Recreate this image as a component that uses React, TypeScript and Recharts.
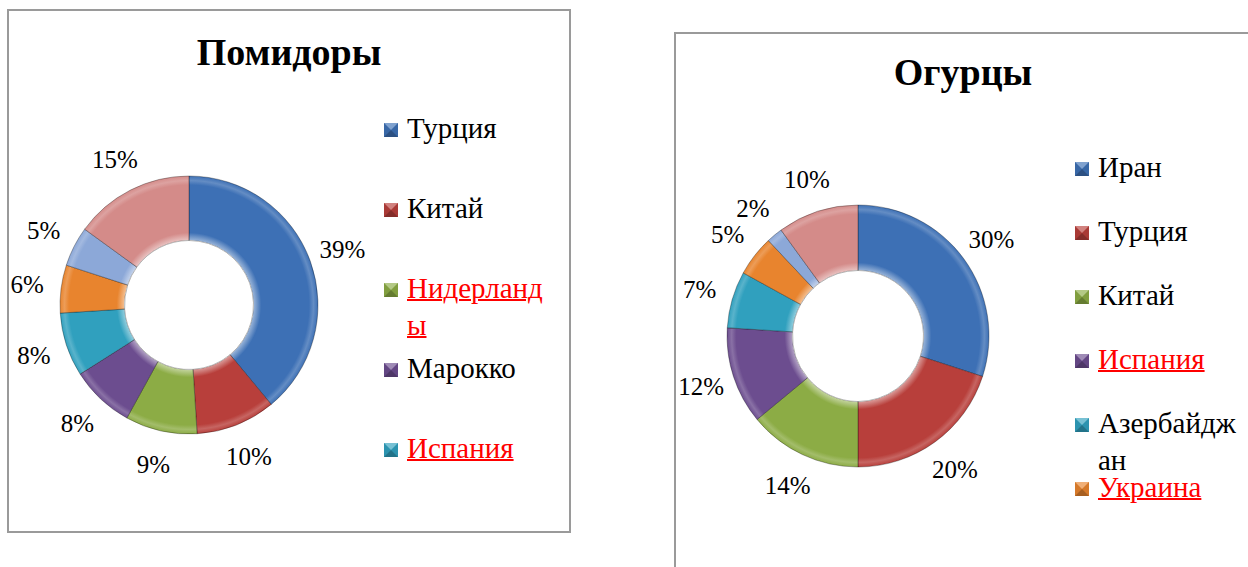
import { PieChart, Pie, Cell, Legend } from "recharts";

// Помидоры
const TOMATO_NAMES = ["Турция", "Китай", "Нидерланды", "Марокко", "Испания", "Страна 6", "Страна 7", "Прочие"];
const TOMATO_VALUES = [39, 10, 9, 8, 8, 6, 5, 15];
const TOMATO_LINKS = ["Нидерланды", "Испания"];

// Огурцы
const CUCUMBER_NAMES = ["Иран", "Турция", "Китай", "Испания", "Азербайджан", "Украина", "Страна 7", "Прочие"];
const CUCUMBER_VALUES = [30, 20, 14, 12, 7, 5, 2, 10];
const CUCUMBER_LINKS = ["Испания", "Украина"];

const COLORS = ["#3d70b5", "#b83f3b", "#8cac45", "#6c4d8f", "#30a0be", "#e8842e", "#8ca8d8", "#d48b89"];

const SERIF = "'Liberation Serif', 'Times New Roman', serif";
const RAD = Math.PI / 180;

const renderLabel = (props: any) => {
    const { cx, cy, midAngle, outerRadius, value } = props;
    const r = outerRadius + 34;
    const x = cx + r * Math.cos(-midAngle * RAD);
    const y = cy + r * Math.sin(-midAngle * RAD);
    return (
        <text x={x} y={y} textAnchor="middle" dominantBaseline="central" fontSize={25} fontFamily={SERIF} fill="#000">
            {value}%
        </text>
    );
};

// small bevelled square like the Excel legend keys
function Marker({ color }: { color: string }) {
    return (
        <svg width={14} height={14} style={{ flex: "none", marginTop: 13, marginRight: 9 }}>
            <rect x={0} y={0} width={14} height={14} fill={color} />
            <polygon points="0,0 14,0 7,7" fill="rgba(255,255,255,0.35)" />
            <polygon points="0,0 7,7 0,14" fill="rgba(0,0,0,0.08)" />
            <polygon points="14,0 7,7 14,14" fill="rgba(0,0,0,0.08)" />
            <polygon points="0,14 14,14 7,7" fill="rgba(0,0,0,0.28)" />
        </svg>
    );
}

function LegendList({ names, links, count, spacing, textWidth }: { names: string[]; links: string[]; count: number; spacing: number; textWidth: number }) {
    return (
        <div style={{ position: "relative", fontFamily: SERIF }}>
            {names.slice(0, count).map((name, i) => {
                const link = links.includes(name);
                return (
                    <div key={name} style={{ position: "absolute", left: 0, top: i * spacing, display: "flex", alignItems: "flex-start" }}>
                        <Marker color={COLORS[i]} />
                        <span
                            style={{
                                width: textWidth,
                                wordBreak: "break-all",
                                fontSize: 29,
                                lineHeight: "37px",
                                color: link ? "#ff0000" : "#000",
                                textDecoration: link ? "underline" : "none",
                                textDecorationThickness: 2,
                            }}
                        >
                            {name}
                        </span>
                    </div>
                );
            })}
        </div>
    );
}

// ring shading: light rim at the hole, darker towards the outer edge
function Bevel({ id, cx, cy, outer }: { id: string; cx: number; cy: number; outer: number }) {
    return (
        <defs>
            {COLORS.map((c, i) => (
                <radialGradient key={c} id={`${id}-${i}`} gradientUnits="userSpaceOnUse" cx={cx} cy={cy} r={outer}>
                    <stop offset="0.5" stopColor="#ffffff" />
                    <stop offset="0.505" stopColor={c} stopOpacity={0.55} />
                    <stop offset="0.56" stopColor={c} />
                    <stop offset="0.93" stopColor={c} />
                    <stop offset="0.965" stopColor={c} stopOpacity={0.8} />
                    <stop offset="1" stopColor={c} />
                </radialGradient>
            ))}
        </defs>
    );
}

function Donut({ id, names, values, cx, cy, outer }: { id: string; names: string[]; values: number[]; cx: number; cy: number; outer: number }) {
    const data = names.map((name, i) => ({ name, value: values[i] }));
    return (
        <Pie
            data={data}
            dataKey="value"
            nameKey="name"
            cx={cx}
            cy={cy}
            innerRadius={outer / 2}
            outerRadius={outer}
            startAngle={90}
            endAngle={-270}
            label={renderLabel}
            labelLine={false}
            isAnimationActive={false}
        >
            {data.map((d, i) => (
                <Cell key={d.name} fill={`url(#${id}-${i})`} stroke="rgba(0,0,0,0.3)" strokeWidth={1} />
            ))}
        </Pie>
    );
}

const titleStyle = {
    position: "absolute" as const,
    fontFamily: SERIF,
    fontWeight: 700,
    fontSize: 38,
    lineHeight: "44px",
    textAlign: "center" as const,
};

export default function App() {
    return (
        <div style={{ position: "absolute", left: 0, top: 0, width: 1248, height: 567, overflow: "hidden", background: "#fff" }}>
            {/* frames */}
            <div style={{ position: "absolute", left: 7, top: 9, width: 564, height: 524, boxSizing: "border-box", border: "2px solid #9a9a9a" }} />
            <div style={{ position: "absolute", left: 674, top: 32, width: 578, height: 600, boxSizing: "border-box", border: "2px solid #9a9a9a" }} />

            {/* titles */}
            <div style={{ ...titleStyle, left: 7, top: 30, width: 564 }}>Помидоры</div>
            <div style={{ ...titleStyle, left: 674, top: 50, width: 578 }}>Огурцы</div>

            <div style={{ position: "absolute", left: 0, top: 0 }}>
                <PieChart width={580} height={540} margin={{ top: 0, right: 0, bottom: 0, left: 0 }}>
                    <Bevel id="tom" cx={189} cy={305} outer={129} />
                    {Donut({ id: "tom", names: TOMATO_NAMES, values: TOMATO_VALUES, cx: 189, cy: 305, outer: 129 })}
                    <Legend
                        layout="vertical"
                        align="right"
                        verticalAlign="top"
                        wrapperStyle={{ left: 384, top: 110, right: "auto", width: 180, height: 400 }}
                        content={() => <LegendList names={TOMATO_NAMES} links={TOMATO_LINKS} count={5} spacing={80} textWidth={145} />}
                    />
                </PieChart>
            </div>

            <div style={{ position: "absolute", left: 624, top: 0 }}>
                <PieChart width={624} height={567} margin={{ top: 0, right: 0, bottom: 0, left: 0 }}>
                    <Bevel id="cuc" cx={234} cy={336} outer={131} />
                    {Donut({ id: "cuc", names: CUCUMBER_NAMES, values: CUCUMBER_VALUES, cx: 234, cy: 336, outer: 131 })}
                    <Legend
                        layout="vertical"
                        align="right"
                        verticalAlign="top"
                        wrapperStyle={{ left: 451, top: 149, right: "auto", width: 173, height: 400 }}
                        content={() => <LegendList names={CUCUMBER_NAMES} links={CUCUMBER_LINKS} count={6} spacing={64} textWidth={142} />}
                    />
                </PieChart>
            </div>
        </div>
    );
}
